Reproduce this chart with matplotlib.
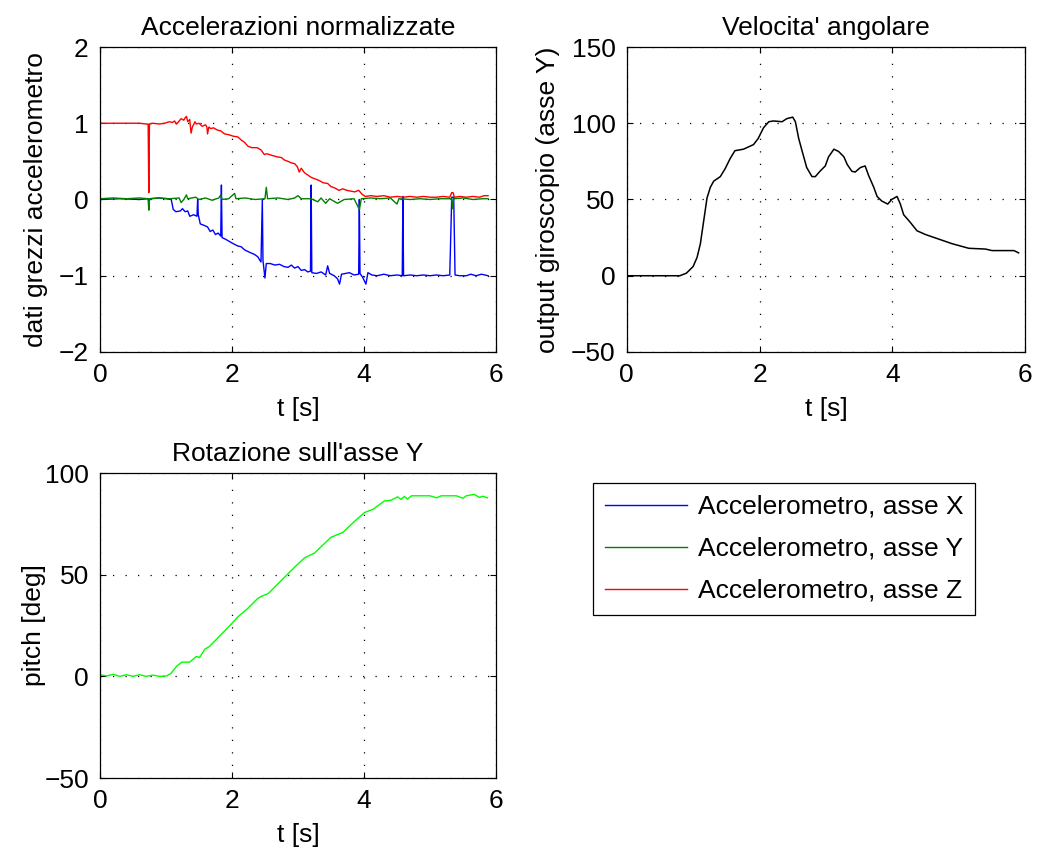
import matplotlib
matplotlib.use("Agg")
import matplotlib.pyplot as plt

# accelerometro, asse Z (rosso)
accz_t = [0.00, 0.60, 0.70, 0.73, 0.74, 0.75, 0.80, 0.90, 0.98, 1.05,
          1.10, 1.13, 1.16, 1.20, 1.23, 1.27, 1.29, 1.31, 1.33, 1.36,
          1.38, 1.40, 1.44, 1.46, 1.50, 1.55, 1.60, 1.62, 1.63, 1.65,
          1.68, 1.72, 1.78, 1.83, 1.89, 1.95, 2.02, 2.09, 2.14, 2.19,
          2.24, 2.30, 2.38, 2.44, 2.49, 2.53, 2.60, 2.68, 2.75, 2.79,
          2.85, 2.90, 2.95, 2.99, 3.02, 3.05, 3.10, 3.15, 3.20, 3.26,
          3.32, 3.38, 3.45, 3.50, 3.56, 3.62, 3.68, 3.74, 3.80, 3.86,
          3.92, 3.97, 4.02, 4.10, 4.20, 4.30, 4.40, 4.50, 4.60, 4.70,
          4.80, 4.90, 5.00, 5.10, 5.20, 5.30, 5.33, 5.35, 5.37, 5.45,
          5.55, 5.65, 5.75, 5.82, 5.88]
accz = [1.00, 1.00, 0.99, 0.99, 0.09, 0.99, 1.00, 0.99, 1.00, 1.02,
        1.01, 1.03, 0.99, 1.03, 1.06, 1.04, 1.07, 1.09, 1.02, 1.05,
        0.87, 0.95, 1.02, 0.99, 1.00, 0.96, 0.98, 0.95, 0.86, 0.95,
        0.93, 0.94, 0.91, 0.90, 0.86, 0.85, 0.83, 0.82, 0.78, 0.75,
        0.70, 0.68, 0.68, 0.65, 0.59, 0.60, 0.58, 0.56, 0.55, 0.52,
        0.50, 0.48, 0.47, 0.43, 0.36, 0.41, 0.35, 0.32, 0.29, 0.27,
        0.25, 0.22, 0.21, 0.17, 0.15, 0.12, 0.14, 0.12, 0.11, 0.10,
        0.12, 0.07, 0.04, 0.05, 0.04, 0.05, 0.03, 0.04, 0.03, 0.04,
        0.03, 0.04, 0.03, 0.03, 0.04, 0.03, 0.09, 0.09, 0.03, 0.04,
        0.03, 0.04, 0.03, 0.05, 0.05]

# accelerometro, asse X (blu)
accx_t = [0.00, 0.30, 0.60, 0.73, 0.74, 0.76, 0.90, 1.00, 1.08, 1.11,
          1.15, 1.22, 1.25, 1.29, 1.33, 1.36, 1.42, 1.47, 1.48, 1.49,
          1.52, 1.58, 1.63, 1.67, 1.71, 1.75, 1.79, 1.83, 1.84, 1.85,
          1.90, 1.96, 2.02, 2.09, 2.14, 2.19, 2.26, 2.34, 2.39, 2.44,
          2.46, 2.47, 2.50, 2.52, 2.58, 2.65, 2.72, 2.79, 2.85, 2.90,
          2.95, 3.00, 3.05, 3.10, 3.15, 3.19, 3.20, 3.21, 3.28, 3.35,
          3.42, 3.45, 3.48, 3.55, 3.60, 3.63, 3.66, 3.72, 3.78, 3.85,
          3.92, 3.93, 3.94, 3.98, 4.03, 4.06, 4.12, 4.20, 4.30, 4.40,
          4.50, 4.58, 4.59, 4.60, 4.70, 4.80, 4.90, 5.00, 5.10, 5.20,
          5.30, 5.33, 5.36, 5.38, 5.45, 5.55, 5.62, 5.70, 5.78, 5.88]
accx = [0.00, 0.01, 0.00, 0.01, -0.03, 0.01, 0.02, 0.01, 0.00, -0.13,
        -0.16, -0.15, -0.12, -0.16, -0.15, -0.22, -0.20, -0.22, 0.00, -0.20,
        -0.32, -0.34, -0.36, -0.42, -0.40, -0.46, -0.44, -0.48, 0.19, -0.50,
        -0.52, -0.55, -0.58, -0.61, -0.62, -0.66, -0.69, -0.72, -0.75, -0.82,
        0.00, -0.80, -1.03, -0.84, -0.84, -0.86, -0.85, -0.88, -0.89, -0.86,
        -0.90, -0.88, -0.93, -0.92, -0.95, -0.94, 0.19, -0.96, -0.97, -0.95,
        -0.99, -0.87, -0.97, -1.00, -1.04, -1.11, -0.98, -0.97, -0.96, -0.99,
        -0.98, 0.00, -0.97, -1.02, -1.11, -0.96, -0.99, -1.00, -0.98, -1.00,
        -0.99, -1.00, 0.04, -1.00, -0.99, -1.00, -0.99, -1.00, -0.99, -1.00,
        -0.99, 0.03, 0.03, -0.99, -1.00, -1.00, -0.98, -1.00, -0.98, -1.00]

# accelerometro, asse Y (verde)
accy_t = [0.00, 0.20, 0.40, 0.60, 0.73, 0.74, 0.75, 0.90, 1.05, 1.20,
          1.23, 1.27, 1.31, 1.33, 1.45, 1.50, 1.60, 1.70, 1.80, 1.83,
          1.85, 1.95, 2.04, 2.06, 2.20, 2.35, 2.50, 2.52, 2.54, 2.70,
          2.85, 2.95, 3.00, 3.05, 3.20, 3.30, 3.35, 3.42, 3.48, 3.60,
          3.70, 3.85, 3.93, 3.96, 4.10, 4.25, 4.40, 4.50, 4.53, 4.70,
          4.85, 5.00, 5.15, 5.33, 5.34, 5.36, 5.50, 5.65, 5.80, 5.88]
accy = [0.01, 0.02, 0.01, 0.02, 0.01, -0.14, 0.01, 0.02, 0.01, 0.02,
        -0.04, 0.00, 0.06, 0.01, 0.03, 0.00, 0.02, -0.01, 0.02, 0.06,
        0.00, 0.01, 0.08, 0.01, 0.02, 0.00, 0.01, 0.16, 0.01, 0.02,
        0.00, 0.02, 0.05, 0.01, 0.01, -0.03, 0.02, -0.05, 0.01, -0.05,
        0.00, 0.01, -0.13, 0.01, 0.02, 0.01, 0.02, -0.06, 0.01, 0.00,
        0.01, 0.00, 0.01, 0.01, -0.12, 0.01, 0.02, 0.00, 0.01, 0.01]

# giroscopio, asse Y
gyro_t = [0.00, 0.80, 0.90, 1.00, 1.06, 1.11, 1.16, 1.21, 1.26, 1.31,
          1.41, 1.48, 1.56, 1.63, 1.76, 1.91, 1.98, 2.06, 2.14, 2.21,
          2.34, 2.41, 2.50, 2.54, 2.59, 2.64, 2.71, 2.79, 2.84, 2.91,
          2.99, 3.04, 3.12, 3.19, 3.27, 3.32, 3.39, 3.44, 3.52, 3.59,
          3.64, 3.72, 3.77, 3.84, 3.93, 3.99, 4.07, 4.12, 4.17, 4.27,
          4.37, 4.50, 4.70, 4.90, 5.15, 5.40, 5.50, 5.83, 5.90]
gyro = [0, 0, 1.7, 6, 12, 21, 36, 51, 58, 62,
        65, 70, 77, 82, 83, 86, 90, 97, 101, 101.5,
        101, 103, 104, 101, 90, 82, 71, 65, 65, 68.5,
        72, 78, 83, 81.5, 78, 73, 68.5, 68, 71, 72,
        66, 58, 52, 49, 47, 50, 52, 47, 40, 35,
        29.5, 27, 24, 21, 18, 17.5, 16.5, 16.5, 15]

# pitch
pitch_t = [0.00, 0.10, 0.20, 0.30, 0.40, 0.50, 0.60, 0.70, 0.80, 0.90,
           1.01, 1.08, 1.16, 1.24, 1.36, 1.46, 1.51, 1.59, 1.66, 1.99,
           2.09, 2.24, 2.39, 2.45, 2.55, 2.75, 2.95, 3.10, 3.25, 3.50,
           3.68, 3.88, 4.01, 4.14, 4.31, 4.41, 4.51, 4.56, 4.61, 4.66,
           4.72, 4.84, 5.00, 5.10, 5.17, 5.40, 5.50, 5.55, 5.67, 5.75,
           5.80, 5.87]
pitch = [0.8, 0.2, 1.0, 0.0, 0.8, 0.0, 0.8, 0.0, 0.6, 0.0,
         0.2, 1.6, 4.9, 7.0, 7.0, 9.8, 9.3, 13.4, 14.7, 25.7,
         29.3, 33.4, 38.3, 39.4, 40.7, 47.2, 53.7, 58.3, 60.6, 68.4,
         70.8, 76.9, 80.6, 82.2, 86.3, 86.6, 88.3, 87.0, 88.5, 87.2,
         88.8, 88.8, 88.8, 87.8, 88.8, 88.8, 87.6, 88.8, 89.5, 88.0,
         88.6, 87.8]

legend_labels = ["Accelerometro, asse X", "Accelerometro, asse Y",
                 "Accelerometro, asse Z"]

plt.rcParams['font.family'] = ['Liberation Sans', 'DejaVu Sans']
plt.rcParams['font.size'] = 19
plt.rcParams['axes.linewidth'] = 0.9


def style_axes(ax, yticks, title, ylabel, ylab_x):
    ax.set_xlim(0, 6)
    ax.set_xticks([0, 2, 4, 6])
    ax.set_ylim(yticks[0], yticks[-1])
    ax.set_yticks(yticks)
    ax.tick_params(direction='in', top=True, right=True, length=4,
                   width=0.8, pad=8, labelsize=19)
    ax.grid(True, color='k', linestyle=(0, (1, 9)), linewidth=0.9)
    ax.set_xlabel("t [s]", labelpad=7)
    ax.set_title(title, fontsize=19, pad=9)
    ax.set_ylabel(ylabel)
    ax.yaxis.set_label_coords(ylab_x, 0.5)


fig = plt.figure(figsize=(10.38, 8.5), dpi=100)

# accelerazioni
ax1 = fig.add_axes([0.0963, 0.5859, 0.3815, 0.3588])
lx, = ax1.plot(accx_t, accx, color=(0, 0, 1), lw=1.0)
ly, = ax1.plot(accy_t, accy, color=(0, 0.5, 0), lw=1.0)
lz, = ax1.plot(accz_t, accz, color=(1, 0, 0), lw=1.0)
style_axes(ax1, [-2, -1, 0, 1, 2], "Accelerazioni normalizzate",
           "dati grezzi accelerometro", -0.131)

# giroscopio
ax2 = fig.add_axes([0.6037, 0.5859, 0.3840, 0.3588])
ax2.plot(gyro_t, gyro, color='k', lw=1.1)
style_axes(ax2, [-50, 0, 50, 100, 150], "Velocita' angolare",
           "output giroscopio (asse Y)", -0.168)

# pitch
ax3 = fig.add_axes([0.0963, 0.0847, 0.3815, 0.3588])
ax3.plot(pitch_t, pitch, color=(0, 1, 0), lw=1.0)
style_axes(ax3, [-50, 0, 50, 100], "Rotazione sull'asse Y",
           "pitch [deg]", -0.135)

leg = fig.legend([lx, ly, lz], legend_labels, loc='upper left',
                 bbox_to_anchor=(593 / 1038, 1 - 483 / 850),
                 fancybox=False, edgecolor='k', framealpha=1,
                 handlelength=3.1, handletextpad=0.42, labelspacing=0.68,
                 borderpad=0.45, borderaxespad=0, fontsize=19)
leg.get_frame().set_linewidth(0.9)

fig.savefig("out.png", dpi=100)
